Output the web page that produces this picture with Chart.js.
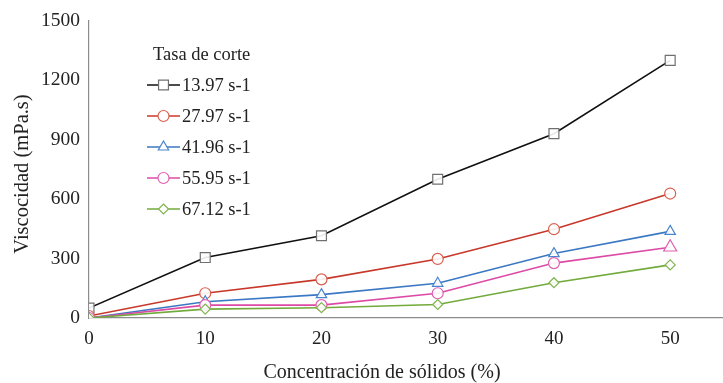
<!DOCTYPE html>
<html>
<head>
<meta charset="utf-8">
<script src="https://cdn.jsdelivr.net/npm/chart.js@4/dist/chart.umd.min.js"></script>
<style>
  html, body { margin: 0; padding: 0; background: #fff; overflow: hidden; }
  #wrap { width: 737px; height: 383px; position: relative; }
</style>
</head>
<body>
<div id="wrap"><canvas id="c"></canvas></div>
<script>
// Solids concentration (%) on the x axis
const solids = [0, 10, 20, 30, 40, 50];

// Viscosity (mPa.s) for each shear rate
const rate1397 = [50, 305, 415, 700, 930, 1300];
const rate2797 = [10, 125, 195, 298, 448, 628];
const rate4196 = [0, 82, 118, 175, 325, 437];
const rate5595 = [0, 65, 65, 125, 277, 357];
const rate6712 = [0, 45, 52, 68, 178, 268];

const seriesLabels = ['13.97 s-1', '27.97 s-1', '41.96 s-1', '55.95 s-1', '67.12 s-1'];
const legendTitle = 'Tasa de corte';
const yTicks = [0, 300, 600, 900, 1200, 1500];
const xTitle = 'Concentración de sólidos (%)';
const yTitle = 'Viscocidad (mPa.s)';

const FONT = '"Liberation Serif", "DejaVu Serif", serif';
const TEXT = '#222';

const styles = [
  { line: '#111111', mark: '#707070', shape: 'rect',     r: 7 },
  { line: '#c8382a', mark: '#d8604e', shape: 'circle',   r: 5.5 },
  { line: '#3a78c4', mark: '#4a86d0', shape: 'triangle', r: 6 },
  { line: '#dc4aa6', mark: '#e060b0', shape: 'circle',   r: 5.5 },
  { line: '#72aa3c', mark: '#80b450', shape: 'rectRot',  r: 5 }
];
const values = [rate1397, rate2797, rate4196, rate5595, rate6712];

const toPoints = arr => arr.map((v, i) => ({ x: solids[i], y: v }));

const datasets = values.map((arr, k) => {
  const s = styles[k];
  let shape = s.shape, radius = s.r;
  if (k === 3) {
    // the last marker of this series is drawn as a larger triangle
    shape = arr.map((_, i) => i === arr.length - 1 ? 'triangle' : 'circle');
    radius = arr.map((_, i) => i === arr.length - 1 ? 7.5 : 5.5);
  }
  return {
    label: seriesLabels[k],
    data: toPoints(arr),
    borderColor: s.line,
    borderWidth: 1.6,
    pointStyle: shape,
    pointRadius: radius,
    pointBorderColor: s.mark,
    pointBackgroundColor: 'rgba(255,255,255,0.9)',
    pointBorderWidth: 1.2,
    tension: 0,
    fill: false
  };
}).reverse();

function drawMarker(ctx, shape, x, y, r, stroke) {
  ctx.save();
  ctx.strokeStyle = stroke;
  ctx.fillStyle = '#fff';
  ctx.lineWidth = 1.2;
  ctx.beginPath();
  if (shape === 'rect') {
    const h = r * Math.SQRT1_2;
    ctx.rect(x - h, y - h, 2 * h, 2 * h);
  } else if (shape === 'circle') {
    ctx.arc(x, y, r, 0, Math.PI * 2);
  } else if (shape === 'triangle') {
    ctx.moveTo(x, y - r);
    ctx.lineTo(x + r * 0.866, y + r * 0.5);
    ctx.lineTo(x - r * 0.866, y + r * 0.5);
    ctx.closePath();
  } else if (shape === 'rectRot') {
    ctx.moveTo(x, y - r);
    ctx.lineTo(x + r, y);
    ctx.lineTo(x, y + r);
    ctx.lineTo(x - r, y);
    ctx.closePath();
  }
  ctx.fill();
  ctx.stroke();
  ctx.restore();
}

// Legend box inside the plot area, plus both axis titles
const insideLegend = {
  id: 'insideLegend',
  afterDraw(chart) {
    const ctx = chart.ctx;
    ctx.save();
    ctx.font = '18.5px ' + FONT;
    ctx.fillStyle = TEXT;
    ctx.textBaseline = 'middle';
    ctx.textAlign = 'left';
    ctx.fillText(legendTitle, 153, 55);
    seriesLabels.forEach((lab, k) => {
      const y = 85 + k * 31;
      const s = styles[k];
      ctx.strokeStyle = s.line;
      ctx.lineWidth = 1.6;
      ctx.beginPath();
      ctx.moveTo(147, y);
      ctx.lineTo(180, y);
      ctx.stroke();
      drawMarker(ctx, s.shape, 163.5, y, k === 0 ? 7 : s.r, s.mark);
      ctx.fillStyle = TEXT;
      ctx.fillText(lab, 182, y + 1);
    });

    ctx.font = '20px ' + FONT;
    ctx.textAlign = 'center';
    ctx.fillStyle = TEXT;
    ctx.fillText(xTitle, 382, 373);

    ctx.translate(23, 174);
    ctx.rotate(-Math.PI / 2);
    ctx.font = '20.5px ' + FONT;
    ctx.fillText(yTitle, 0, 0);
    ctx.restore();
  }
};

new Chart(document.getElementById('c'), {
  type: 'line',
  data: { datasets },
  options: {
    responsive: true,
    maintainAspectRatio: false,
    animation: false,
    layout: { padding: { left: 0, top: 17, right: 0, bottom: 0 } },
    plugins: {
      legend: { display: false },
      tooltip: { enabled: false }
    },
    scales: {
      x: {
        type: 'linear',
        min: 0,
        max: 55,
        afterFit(scale) { scale.height = 65; },
        afterBuildTicks(scale) { scale.ticks = solids.map(v => ({ value: v })); },
        grid: { color: 'transparent', drawTicks: false },
        border: { display: true, color: '#8c8c8c', width: 1.2 },
        ticks: {
          padding: 10,
          color: TEXT,
          font: { family: FONT, size: 19 },
          callback: v => String(v)
        }
      },
      y: {
        min: 0,
        max: 1500,
        afterFit(scale) { scale.width = 89; },
        afterBuildTicks(scale) { scale.ticks = yTicks.map(v => ({ value: v })); },
        grid: { color: 'transparent', drawTicks: false },
        border: { display: true, color: '#8c8c8c', width: 1.2 },
        ticks: {
          padding: 9,
          color: TEXT,
          font: { family: FONT, size: 19.5 },
          callback: v => String(v)
        }
      }
    }
  },
  plugins: [insideLegend]
});
</script>
</body>
</html>
